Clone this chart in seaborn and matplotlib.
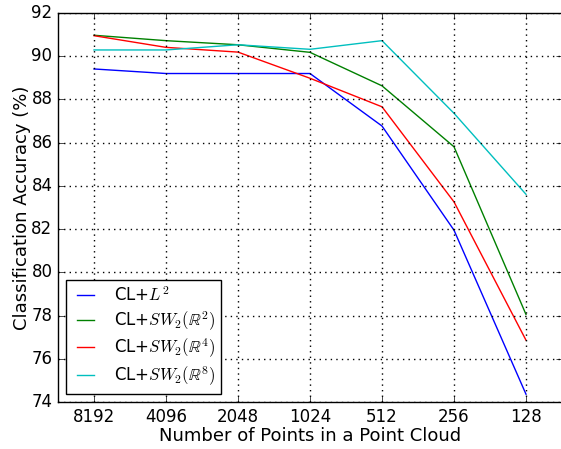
import matplotlib
matplotlib.use("Agg")
import matplotlib.pyplot as plt
import seaborn as sns
import pandas as pd

points = ["8192", "4096", "2048", "1024", "512", "256", "128"]
series_names = [r"CL+$L^2$", r"CL+$SW_2(\mathbb{R}^2)$",
                r"CL+$SW_2(\mathbb{R}^4)$", r"CL+$SW_2(\mathbb{R}^8)$"]
acc_l2 = [89.41, 89.20, 89.20, 89.20, 86.77, 81.95, 74.36]
acc_sw2 = [90.97, 90.72, 90.53, 90.18, 88.63, 85.81, 78.05]
acc_sw4 = [90.95, 90.41, 90.19, 88.98, 87.66, 83.26, 76.86]
acc_sw8 = [90.29, 90.29, 90.53, 90.32, 90.72, 87.36, 83.61]
colors = ["blue", "green", "red", "c"]

plt.style.use("classic")
plt.rcParams["font.family"] = ["DejaVu Sans"]

rows = []
for name, vals in zip(series_names, [acc_l2, acc_sw2, acc_sw4, acc_sw8]):
    for i, (p, v) in enumerate(zip(points, vals)):
        rows.append({"idx": i, "points": p, "acc": v, "series": name})
df = pd.DataFrame(rows)

fig = plt.figure(figsize=(5.61, 4.49), dpi=100)
ax = fig.add_axes([58 / 561, (449 - 402) / 449, (562 - 58) / 561, (402 - 13) / 449])
sns.lineplot(data=df, x="idx", y="acc", hue="series", palette=colors,
             hue_order=series_names, ax=ax, linewidth=1.0, legend=True)

ax.set_xlim(-0.5, 6.5)
ax.set_ylim(74, 92)
ax.set_xticks(range(len(points)))
ax.set_xticklabels(points)
ax.set_yticks(range(74, 93, 2))
ax.grid(True, color="k", linestyle=":", linewidth=1.0)
ax.set_xlabel("Number of Points in a Point Cloud", fontsize=13, labelpad=1)
ax.set_ylabel("Classification Accuracy (%)", fontsize=13, labelpad=0)
ax.tick_params(labelsize=12)
leg = ax.legend(loc="lower left", fontsize=12, fancybox=False, framealpha=1,
                handlelength=1.6, handletextpad=0.9, borderpad=0.35,
                labelspacing=0.25, borderaxespad=0.5)
leg.get_frame().set_edgecolor("black")
fig.savefig("out.png", dpi=100)
